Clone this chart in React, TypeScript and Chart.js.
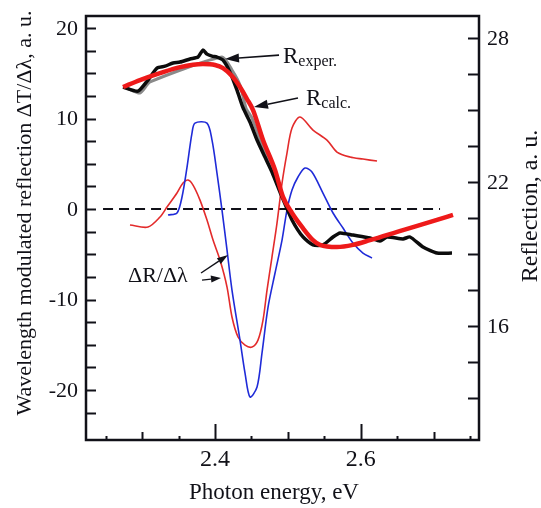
import React, { useEffect, useRef } from 'react';
import { Chart, registerables } from 'chart.js';

Chart.register(...registerables);

// ---- Data (photon energy in eV) ----
// Wavelength-modulated reflection (left axis)
const blueE = [2.3355, 2.3478, 2.3547, 2.3616, 2.3684, 2.3725, 2.389, 2.3959, 2.4027, 2.4096, 2.4165, 2.4233, 2.4343, 2.4412, 2.448, 2.4577, 2.4645, 2.4728, 2.4824, 2.492, 2.4988, 2.5057, 2.5139, 2.5235, 2.5331, 2.5482, 2.562, 2.5757, 2.5894, 2.6031, 2.6155];
const blueV = [-0.66, -0.44, 1.33, 4.64, 8.4, 9.5, 9.5, 7.62, 3.98, -0.11, -4.53, -8.95, -14.48, -18.12, -20.77, -19.67, -15.91, -10.83, -7.07, -3.43, -0.11, 2.1, 3.54, 4.53, 4.09, 1.77, -0.44, -2.1, -3.76, -4.86, -5.41];

const redThinE = [2.2833, 2.308, 2.3245, 2.3341, 2.3478, 2.3561, 2.3629, 2.3698, 2.3794, 2.389, 2.3973, 2.4069, 2.4165, 2.4233, 2.4316, 2.4412, 2.4508, 2.459, 2.4659, 2.4714, 2.4782, 2.4851, 2.492, 2.4988, 2.5057, 2.5167, 2.5345, 2.5537, 2.5674, 2.5853, 2.6032, 2.6224];
const redThinV = [-1.77, -1.99, -0.88, 0.22, 1.77, 2.87, 3.2, 2.65, 0.99, -1.22, -3.43, -5.64, -8.62, -11.93, -14.14, -15.03, -15.25, -14.48, -12.27, -8.95, -5.3, -1.55, 2.87, 6.19, 8.95, 10.17, 8.73, 7.62, 6.3, 5.75, 5.52, 5.3];

const zeroE = [2.2463, 2.7089];
const zeroV = [0, 0];

// Reflection (right axis)
const calcE = [2.2737, 2.297, 2.3245, 2.352, 2.3835, 2.4, 2.411, 2.4233, 2.4343, 2.4439, 2.4522, 2.4659, 2.4824, 2.4933, 2.5057, 2.5194, 2.5345, 2.5441, 2.5675, 2.5894, 2.6128, 2.6581, 2.7047, 2.7267];
const calcR = [25.96, 26.25, 26.54, 26.79, 26.92, 26.88, 26.75, 26.42, 25.96, 25.46, 25.0, 23.75, 22.5, 21.38, 20.71, 20.13, 19.58, 19.38, 19.29, 19.38, 19.58, 20.0, 20.42, 20.63];

const expE = [2.2737, 2.2943, 2.308, 2.3204, 2.3314, 2.3424, 2.352, 2.3657, 2.3767, 2.3835, 2.389, 2.3959, 2.4027, 2.411, 2.4206, 2.4302, 2.4384, 2.448, 2.4577, 2.4686, 2.4782, 2.492, 2.5057, 2.5208, 2.5345, 2.5482, 2.562, 2.5716, 2.5894, 2.6128, 2.6265, 2.6361, 2.6581, 2.6677, 2.6855, 2.7047, 2.7253];
const expR = [25.96, 25.79, 26.25, 26.75, 26.83, 26.96, 27.0, 27.13, 27.21, 27.5, 27.33, 27.25, 27.21, 27.08, 26.58, 25.83, 25.1, 24.5, 23.75, 23.04, 22.42, 21.38, 20.42, 19.71, 19.38, 19.38, 19.71, 19.88, 19.79, 19.67, 19.54, 19.71, 19.63, 19.71, 19.29, 19.04, 19.04];

const shadowE = [2.2765, 2.297, 2.3108, 2.4096, 2.4233, 2.4343, 2.4426, 2.4508, 2.4618, 2.4728, 2.4837];
const shadowR = [25.96, 25.71, 26.17, 27.21, 26.67, 26.04, 25.08, 24.67, 23.75, 23.0, 22.29];

// ---- Axes ----
const xMin = 2.2229, xMax = 2.7624;
const leftMin = -25.52, leftMax = 21.33;
const rightMin = 11.25, rightMax = 28.92;
const xTickLabels = [2.4, 2.6];
const leftTickLabels = [20, 10, 0, -10, -20];
const rightTickLabels = [28, 22, 16];

const pts = (xs: number[], ys: number[]) => xs.map((x, i) => ({ x, y: ys[i] }));

const SERIF = '"Liberation Serif", "Times New Roman", serif';
const INK = '#111118';

function arrow(ctx: CanvasRenderingContext2D, x1: number, y1: number, x2: number, y2: number, head: number, half: number) {
  const a = Math.atan2(y2 - y1, x2 - x1);
  const bx = x2 - head * Math.cos(a), by = y2 - head * Math.sin(a);
  ctx.beginPath();
  ctx.moveTo(x1, y1);
  ctx.lineTo(bx, by);
  ctx.stroke();
  ctx.beginPath();
  ctx.moveTo(x2, y2);
  ctx.lineTo(bx + half * Math.sin(a), by - half * Math.cos(a));
  ctx.lineTo(bx - half * Math.sin(a), by + half * Math.cos(a));
  ctx.closePath();
  ctx.fill();
}

const framePlugin = {
  id: 'frame',
  afterDraw(chart: any) {
    const ctx: CanvasRenderingContext2D = chart.ctx;
    const { left, right, top, bottom } = chart.chartArea;
    const xs = chart.scales.x, yl = chart.scales.yL, yr = chart.scales.yR;
    ctx.save();
    ctx.strokeStyle = INK;
    ctx.fillStyle = INK;
    ctx.lineWidth = 2.5;
    ctx.lineCap = 'butt';
    ctx.strokeRect(left, top, right - left, bottom - top);

    ctx.lineWidth = 2;
    // left ticks (inward)
    for (let v = -22.5; v <= 20.01; v += 2.5) {
      const y = Math.round(yl.getPixelForValue(v)) + 0.5;
      ctx.beginPath(); ctx.moveTo(left, y); ctx.lineTo(left + 10, y); ctx.stroke();
    }
    // right ticks (inward)
    for (let v = 13; v <= 28.01; v += 1.5) {
      const y = Math.round(yr.getPixelForValue(v)) + 0.5;
      ctx.beginPath(); ctx.moveTo(right, y); ctx.lineTo(right - 11, y); ctx.stroke();
    }
    // bottom ticks (inward)
    for (let i = 0; i <= 10; i++) {
      const v = 2.25 + i * 0.05;
      const x = Math.round(xs.getPixelForValue(v)) + 0.5;
      const k = Math.round(v * 100) % 10;
      const major = Math.round(v * 100) % 20 === 0 && k === 0;
      const len = k === 0 ? (major ? 16 : 8) : 4;
      ctx.beginPath(); ctx.moveTo(x, bottom); ctx.lineTo(x, bottom - len); ctx.stroke();
    }

    // tick labels
    ctx.font = `22px ${SERIF}`;
    ctx.textBaseline = 'middle';
    ctx.textAlign = 'right';
    leftTickLabels.forEach((v) => ctx.fillText(String(v), left - 8, yl.getPixelForValue(v) + 1));
    ctx.textAlign = 'left';
    rightTickLabels.forEach((v) => ctx.fillText(String(v), right + 8, yr.getPixelForValue(v) + 1));
    ctx.textAlign = 'center';
    ctx.font = `24px ${SERIF}`;
    xTickLabels.forEach((v) => ctx.fillText(v.toFixed(1), xs.getPixelForValue(v), bottom + 20));

    // axis titles
    ctx.font = `23px ${SERIF}`;
    ctx.fillText('Photon energy, eV', 274, bottom + 53);
    ctx.save();
    ctx.font = `22px ${SERIF}`;
    ctx.translate(25, 213);
    ctx.rotate(-Math.PI / 2);
    ctx.fillText('Wavelength modulated reflection \u0394T/\u0394\u03bb, a. u.', 0, 0);
    ctx.restore();
    ctx.save();
    ctx.font = `24px ${SERIF}`;
    ctx.translate(531, 206);
    ctx.rotate(-Math.PI / 2);
    ctx.fillText('Reflection, a. u.', 0, 0);
    ctx.restore();

    // annotations
    ctx.textAlign = 'left';
    ctx.textBaseline = 'alphabetic';
    const rx = (e: number) => xs.getPixelForValue(e);
    const ryR = (r: number) => yr.getPixelForValue(r);
    const ryL = (v: number) => yl.getPixelForValue(v);

    ctx.lineWidth = 1.6;
    arrow(ctx, rx(2.4879), ryR(27.29), rx(2.4137), ryR(27.125), 14, 4.5);
    ctx.font = `23px ${SERIF}`;
    ctx.fillText('R', rx(2.4933), ryR(26.96));
    const w1 = ctx.measureText('R').width;
    ctx.font = `16px ${SERIF}`;
    ctx.fillText('exper.', rx(2.4933) + w1, ryR(26.96) + 3);

    arrow(ctx, rx(2.5139), ryR(25.5), rx(2.4535), ryR(25.125), 14, 4.5);
    ctx.font = `23px ${SERIF}`;
    ctx.fillText('R', rx(2.5249), ryR(25.21));
    const w2 = ctx.measureText('R').width;
    ctx.font = `16px ${SERIF}`;
    ctx.fillText('calc.', rx(2.5249) + w2, ryR(25.21) + 3);

    ctx.font = `22px ${SERIF}`;
    ctx.fillText('\u0394R/\u0394\u03bb', rx(2.2806), ryL(-8.07));
    ctx.lineWidth = 1.4;
    arrow(ctx, rx(2.3808), ryL(-7.07), rx(2.4178), ryL(-5.08), 11, 3.5);
    arrow(ctx, rx(2.3822), ryL(-7.85), rx(2.4082), ryL(-7.62), 10, 3.5);
    ctx.restore();
  },
};

export default function App() {
  const ref = useRef<HTMLCanvasElement>(null);
  useEffect(() => {
    if (!ref.current) return;
    const chart = new Chart(ref.current, {
      type: 'line',
      data: {
        datasets: [
          { label: 'zero', data: pts(zeroE, zeroV), yAxisID: 'yL', borderColor: INK, borderWidth: 2, borderDash: [10, 6], pointRadius: 0, order: 6 },
          { label: 'ΔR/Δλ (red)', data: pts(redThinE, redThinV), yAxisID: 'yL', borderColor: '#e32b2b', borderWidth: 1.6, pointRadius: 0, tension: 0.3, order: 5 },
          { label: 'ΔR/Δλ (blue)', data: pts(blueE, blueV), yAxisID: 'yL', borderColor: '#1f2bd8', borderWidth: 1.6, pointRadius: 0, tension: 0.3, order: 4 },
          { label: 'shadow', data: pts(shadowE, shadowR), yAxisID: 'yR', borderColor: '#8a8a8a', borderWidth: 3, pointRadius: 0, tension: 0.2, order: 3 },
          { label: 'R exper.', data: pts(expE, expR), yAxisID: 'yR', borderColor: '#0c0c0c', borderWidth: 3.5, pointRadius: 0, tension: 0.2, order: 2 },
          { label: 'R calc.', data: pts(calcE, calcR), yAxisID: 'yR', borderColor: '#ee1a1a', borderWidth: 4.5, pointRadius: 0, cubicInterpolationMode: 'monotone', order: 1 },
        ],
      },
      options: {
        responsive: false,
        animation: false,
        devicePixelRatio: 1,
        layout: { padding: { left: 86, right: 62, top: 16, bottom: 68 } },
        plugins: { legend: { display: false }, tooltip: { enabled: false } },
        scales: {
          x: { type: 'linear', min: xMin, max: xMax, display: false },
          yL: { type: 'linear', position: 'left', min: leftMin, max: leftMax, display: false },
          yR: { type: 'linear', position: 'right', min: rightMin, max: rightMax, display: false },
        },
      },
      plugins: [framePlugin],
    } as any);
    return () => chart.destroy();
  }, []);
  return (
    <div style={{ position: 'fixed', left: 0, top: 0, width: 541, height: 508, background: '#fff' }}>
      <canvas ref={ref} width={541} height={508} />
    </div>
  );
}
